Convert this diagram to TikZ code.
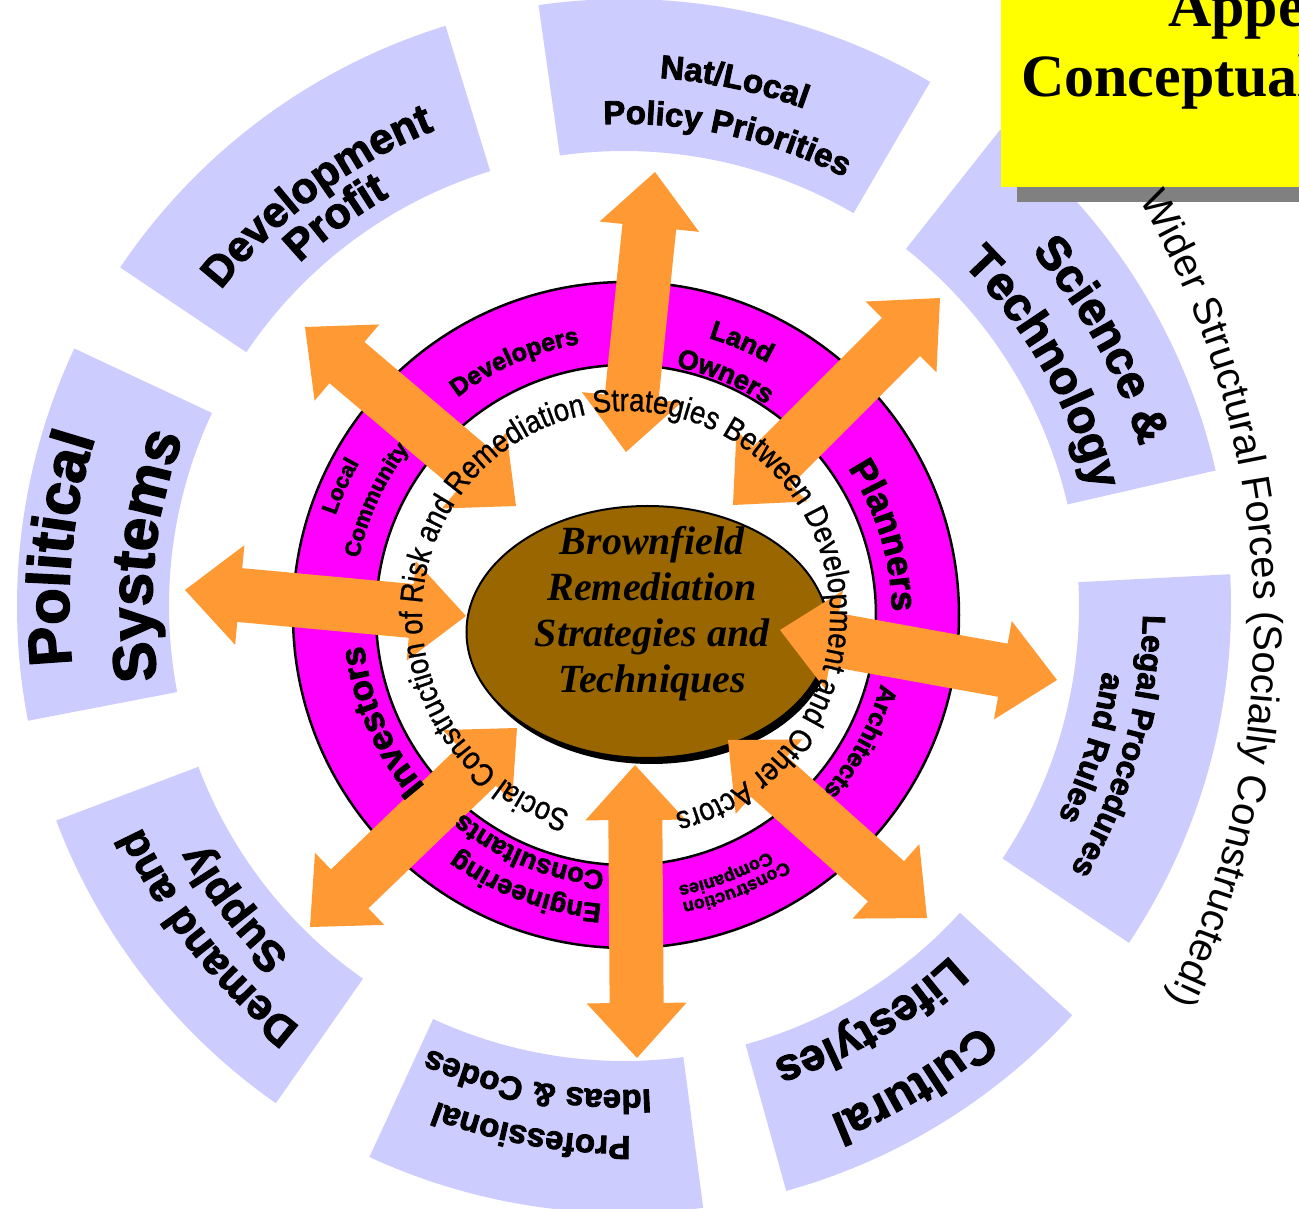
\documentclass[tikz,border=0pt]{standalone}
\usepackage{fontspec}
\setmainfont{Liberation Sans}
\newfontfamily\timesfont{Liberation Serif}
\newfontfamily\heavyfont{Liberation Sans Bold}[FakeBold=2.5]
\newfontfamily\ringfont{Liberation Sans}[FakeStretch=0.86,FakeBold=0.8]
\usepackage{xcolor}
\usetikzlibrary{calc,decorations.text}

\definecolor{lavender}{HTML}{CCCCFF}
\definecolor{ringpink}{HTML}{FF00FF}
\definecolor{arroworange}{HTML}{FF9933}
\definecolor{soilbrown}{HTML}{996600}
\definecolor{titleyellow}{HTML}{FFFF00}
\definecolor{shadowgrey}{HTML}{808080}

% size of the double block arrows
\newcommand\headlen{55pt}
\newcommand\headhalf{50pt}
\newcommand\shafthalf{27pt}

% double-headed block arrow between two named tips
\newcommand\twoway[2]{%
  \fill[blockarrow] (#1)
    -- ($(#1)!\headlen!(#2)!\headhalf!90:(#2)$)
    -- ($(#1)!\headlen!(#2)!\shafthalf!90:(#2)$)
    -- ($(#2)!\headlen!(#1)!\shafthalf!-90:(#1)$)
    -- ($(#2)!\headlen!(#1)!\headhalf!-90:(#1)$)
    -- (#2)
    -- ($(#2)!\headlen!(#1)!\headhalf!90:(#1)$)
    -- ($(#2)!\headlen!(#1)!\shafthalf!90:(#1)$)
    -- ($(#1)!\headlen!(#2)!\shafthalf!-90:(#2)$)
    -- ($(#1)!\headlen!(#2)!\headhalf!-90:(#2)$)
    -- cycle;}

% bold label bent round the centre (angle, baseline radius, size, text)
\newcommand\bentlabel[4]{%
  \path[decorate,decoration={text along path,text align=center,
      text={|\heavyfont\fontsize{#3}{#3}\selectfont|#4}}]
    ({#1+80}:#2) arc[start angle={#1+80},end angle={#1-80},radius=#2];}

\begin{document}
\begin{tikzpicture}[x=1pt,y=1pt,
  sector/.style={fill=lavender},
  blockarrow/.style={fill=arroworange},
  ringline/.style={draw=black,line width=2.5pt},
  coretext/.style={align=center,inner sep=0pt,
    font=\timesfont\bfseries\itshape\fontsize{40}{46}\selectfont},
  titletext/.style={anchor=base west,inner sep=0pt,
    font=\timesfont\bfseries\fontsize{60}{60}\selectfont}
]
\useasboundingbox (-626,-594) rectangle (673,615);

% outer ring: wider structural forces
\begin{scope}[shift={(-2,9)}]
\foreach \a/\b in {326.3/363,12.9/51.7,59.7/98.1,107.1/146.1,
                   154.9/190.9,200.7/235,245.2/277.5,285.5/317.6}
  \fill[sector] (\a:455) arc[start angle=\a,end angle=\b,radius=455]
    -- (\b:607) arc[start angle=\b,end angle=\a,radius=607] -- cycle;

\bentlabel{78.1}{529}{33}{Nat/Local}
\bentlabel{77.6}{482}{33}{Policy Priorities}
\bentlabel{126.8}{512}{43}{Development}
\bentlabel{126.6}{472}{43}{Profit}
\bentlabel{174.2}{555}{60}{Political}
\bentlabel{174}{472}{60}{Systems}
\bentlabel{218.5}{531}{43}{Demand and}
\bentlabel{217.8}{484}{43}{Supply}
\bentlabel{260}{530}{33}{Professional}
\bentlabel{259.7}{484}{33}{Ideas {\&} Codes}
\bentlabel{301.2}{550}{47}{Cultural}
\bentlabel{300.6}{478}{45}{Lifestyles}
\bentlabel{-15.8}{519}{32}{Legal Procedures}
\bentlabel{-16.9}{483}{32}{and Rules}
\bentlabel{29.1}{540}{47}{Science {\&}}
\bentlabel{29.6}{481}{47}{Technology}
\end{scope}

% title box with its shadow
\fill[shadowgrey] (391,413) rectangle (690,640);
\fill[titleyellow] (375,428) rectangle (690,640);
\node[titletext] (appe) at (542,588) {Appe};
\node[titletext] (concept) at (395,518) {Conceptual};

% caption of the outer ring
\path[decorate,decoration={text along path,text align=center,
    text={|\fontsize{40}{40}\selectfont|Wider Structural Forces (Socially Constructed!)}}]
  ($(-222,-11)+(72:850)$) arc[start angle=72,end angle=-68,radius=850];

% ring of actors
\fill[ringpink,even odd rule] (0,0) circle[radius=333] circle[radius=250];
\draw[ringline] (0,0) circle[radius=333] (0,0) circle[radius=250];

% core ellipse
\fill[black] (25.5,-23) ellipse[x radius=181,y radius=126];
\filldraw[fill=soilbrown,draw=black,line width=2pt]
  (21.5,-17) ellipse[x radius=181,y radius=126];
\node[coretext] (core) at (26,1)
  {Brownfield\\Remediation\\Strategies and\\Techniques};

% arrow tips, outer and inner
\coordinate (natO)  at (29,443);   \coordinate (natI)  at (0,163);
\coordinate (sciO)  at (314,317);  \coordinate (sciI)  at (107,110);
\coordinate (legO)  at (431,-65);  \coordinate (legI)  at (154,-15);
\coordinate (culO)  at (301,-303); \coordinate (culI)  at (102,-125);
\coordinate (proO)  at (11,-443);  \coordinate (proI)  at (9,-150);
\coordinate (demO)  at (-316,-312);\coordinate (demI)  at (-109,-113);
\coordinate (polO)  at (-441,25);  \coordinate (polI)  at (-160,-1);
\coordinate (devO)  at (-321,288); \coordinate (devI)  at (-110,109);

\twoway{natO}{natI}
\twoway{sciO}{sciI}
\twoway{legO}{legI}
\twoway{culO}{culI}
\twoway{proO}{proI}
\twoway{demO}{demI}
\twoway{polO}{polI}
\twoway{devO}{devI}

% social construction caption
\path[decorate,decoration={text along path,text align=center,
    text={|\ringfont\fontsize{32}{32}\selectfont|Social Construction of Risk and Remediation Strategies Between Development and Other Actors}}]
  (269:204) arc[start angle=269,end angle=-91,radius=204];

% actor labels
\bentlabel{113.7}{275}{25}{Developers}
\bentlabel{67}{289}{27}{Land}
\bentlabel{67.4}{253}{27}{Owners}
\bentlabel{17.1}{266}{36}{Planners}
\bentlabel{-28.4}{264}{25}{Architects}
\bentlabel{-68}{293}{18}{Construction}
\bentlabel{-69}{276}{18}{Companies}
\bentlabel{249.8}{290}{27}{Engineering}
\bentlabel{247.8}{257}{27}{Consultants}
\bentlabel{203.5}{264}{35}{Investors}
\bentlabel{155.7}{307}{22}{Local}
\bentlabel{155.3}{273}{22}{Community}
\end{tikzpicture}
\end{document}
